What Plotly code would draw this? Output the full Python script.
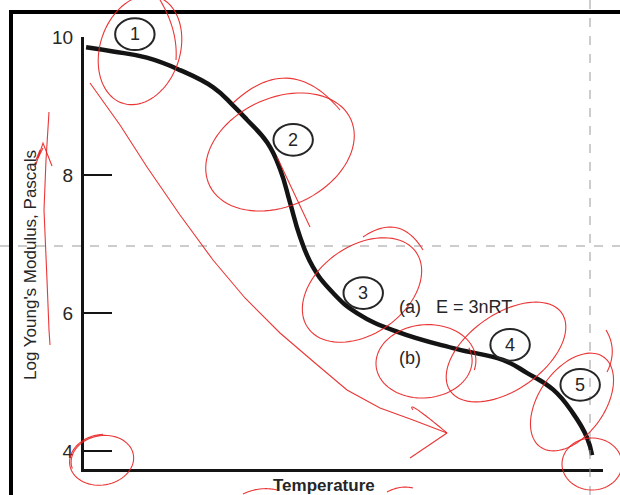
import numpy as np
import plotly.graph_objects as go

# Modulus–temperature curve of an amorphous polymer
temperature = [0.4, 5.6, 12.1, 18.5, 24.9, 28.7, 31.4, 35.3, 37.8, 39.7, 41.6,
               44.1, 48.0, 52.6, 60.3, 71.7, 80.7, 85.4, 90.4, 94.2, 96.9, 97.9]
log_modulus = [9.85, 9.79, 9.70, 9.52, 9.27, 9.01, 8.80, 8.47, 8.08, 7.60, 7.11,
               6.67, 6.29, 6.00, 5.73, 5.48, 5.32, 5.13, 4.89, 4.55, 4.20, 3.94]
y_ticks = [4, 6, 8, 10]

# Numbered regions of the curve (label, temperature, log modulus)
region_labels = ["1", "2", "3", "4", "5"]
region_x = [9.8, 40.3, 53.8, 82.1, 95.6]
region_y = [10.04, 8.51, 6.29, 5.54, 4.96]

X_RANGE = [0, 100]
Y_RANGE = [3.74, 10.0]

W, H = 620, 495
ML, MR, MT, MB = 84, 17, 37, 26
PW, PH = W - ML - MR, H - MT - MB


def px(x):
    return (x - ML) / PW


def py(y):
    return (H - MB - y) / PH


def dx(v):
    return (v - X_RANGE[0]) / (X_RANGE[1] - X_RANGE[0])


def dy(v):
    return (v - Y_RANGE[0]) / (Y_RANGE[1] - Y_RANGE[0])


def path_from(points):
    pts = [f"{px(x):.5f},{py(y):.5f}" for x, y in points]
    return "M " + " L ".join(pts)


def ellipse(cx, cy, a, b, rot, turns=1.1, start=0.0, grow=0.0):
    t = np.linspace(start, start + 2 * np.pi * turns, 90)
    s = 1 + grow * (t - start) / (2 * np.pi)
    r = np.deg2rad(rot)
    ex, ey = a * s * np.cos(t), b * s * np.sin(t)
    X = cx + ex * np.cos(r) - ey * np.sin(r)
    Y = cy + ex * np.sin(r) + ey * np.cos(r)
    return path_from(zip(X, Y))


def bezier(p0, p1, p2, n=30):
    t = np.linspace(0, 1, n)
    X = (1 - t) ** 2 * p0[0] + 2 * (1 - t) * t * p1[0] + t ** 2 * p2[0]
    Y = (1 - t) ** 2 * p0[1] + 2 * (1 - t) * t * p1[1] + t ** 2 * p2[1]
    return path_from(zip(X, Y))


RED = "rgba(232,32,32,0.9)"
INK = "#262626"
shapes = []


def red(path, w=1.1):
    shapes.append(dict(type="path", path=path, xref="paper", yref="paper",
                       line=dict(color=RED, width=w), layer="above"))


# page frame
shapes.append(dict(type="line", xref="paper", yref="paper", x0=px(9), x1=px(620),
                   y0=py(12), y1=py(12), line=dict(color="black", width=4)))
shapes.append(dict(type="line", xref="paper", yref="paper", x0=px(11), x1=px(11),
                   y0=py(10), y1=py(495), line=dict(color="black", width=4)))
# guide lines
shapes.append(dict(type="line", xref="paper", yref="paper", x0=px(0), x1=px(620),
                   y0=py(246), y1=py(246),
                   line=dict(color="#9a9a9a", width=1, dash="dash")))
shapes.append(dict(type="line", xref="paper", yref="paper", x0=px(590), x1=px(590),
                   y0=py(0), y1=py(495),
                   line=dict(color="#9a9a9a", width=1, dash="dash")))

# circled region numbers
for rx, ry in zip(region_x, region_y):
    shapes.append(dict(type="circle", xref="paper", yref="paper",
                       x0=dx(rx - 3.8), x1=dx(rx + 3.8),
                       y0=dy(ry - 0.23), y1=dy(ry + 0.23),
                       line=dict(color=INK, width=2)))

# hand-drawn markup
red(ellipse(140, 50, 40, 56, 18, turns=1.05, start=-1.2))
red(bezier((160, 0), (178, 30), (176, 60)))
red(ellipse(280, 152, 78, 54, -25, turns=1.05, start=2.0))
red(bezier((233, 103), (290, 50), (340, 110)))
red(path_from([(277, 157), (310, 227)]))
red(ellipse(362, 290, 66, 44, -35, turns=1.05, start=2.2))
red(bezier((363, 237), (400, 212), (423, 250)))
red(ellipse(425, 362, 47, 35, -5, turns=1.1, start=-0.3, grow=0.08))
red(ellipse(506, 352, 68, 38, -35, turns=1.05, start=2.5))
red(ellipse(572, 402, 55, 33, -55, turns=1.05, start=2.0))
red(ellipse(592, 464, 30, 26, 0, turns=1.15, start=-0.5))
red(ellipse(102, 460, 31, 24, -10, turns=1.3, start=3.0, grow=0.05))
red(bezier((606, 330), (618, 350), (607, 372)))
red(path_from([(90, 83), (120, 125), (147, 167), (180, 215), (213, 260), (245, 298),
               (280, 333), (315, 363), (347, 390), (380, 408), (413, 420), (447, 433)]))
red(path_from([(410, 458), (447, 433)]))
red(bezier((447, 433), (405, 398), (413, 410)))
red(path_from([(49, 112), (46, 160), (44, 210), (47, 280), (49, 330), (50, 345)]))
red(path_from([(35, 167), (43, 143), (52, 166)]))
red(path_from([(36, 160), (40, 150), (38, 158), (43, 148)]))
red(bezier((243, 494), (260, 486), (277, 490)))
red(bezier((387, 492), (400, 485), (413, 488)))

fig = go.Figure()
fig.add_trace(go.Scatter(x=temperature, y=log_modulus, mode="lines",
                         line=dict(color="#141414", width=4.5, shape="spline",
                                   smoothing=1.3),
                         hoverinfo="skip", cliponaxis=False))

TXT = dict(family="Liberation Sans", color=INK)
C = dict(xanchor="center", yanchor="middle", showarrow=False,
         xref="paper", yref="paper")
annotations = []
for lab, rx, ry in zip(region_labels, region_x, region_y):
    annotations.append(dict(C, x=dx(rx), y=dy(ry), text=lab, font=dict(TXT, size=18)))
annotations.append(dict(C, x=dx(60.3), y=dy(6.09), xanchor="left",
                        text="(a)   E = 3nRT", font=dict(TXT, size=18)))
annotations.append(dict(C, x=dx(60.3), y=dy(5.35), xanchor="left",
                        text="(b)", font=dict(TXT, size=18)))
annotations.append(dict(C, x=px(324), y=py(485), text="<b>Temperature</b>",
                        font=dict(TXT, size=17)))
annotations.append(dict(C, x=px(30), y=py(265),
                        text="Log Young's Modulus, Pascals", textangle=-90,
                        font=dict(family="Liberation Sans Narrow, Liberation Sans",
                                  size=17, color=INK)))

fig.update_layout(
    width=W, height=H,
    margin=dict(l=ML, r=MR, t=MT, b=MB),
    paper_bgcolor="white", plot_bgcolor="white",
    showlegend=False,
    shapes=shapes,
    annotations=annotations,
    xaxis=dict(range=X_RANGE, showgrid=False, zeroline=False, showticklabels=False,
               ticks="", showline=True, linecolor="#141414", linewidth=3),
    yaxis=dict(range=Y_RANGE, showgrid=False, zeroline=False,
               tickvals=y_ticks, ticks="inside", ticklen=28, tickwidth=2,
               tickcolor="#141414", showline=True, linecolor="#141414", linewidth=3,
               ticklabelstandoff=4,
               tickfont=dict(family="Liberation Sans", size=19, color=INK)),
)

fig.write_html("out.html")
